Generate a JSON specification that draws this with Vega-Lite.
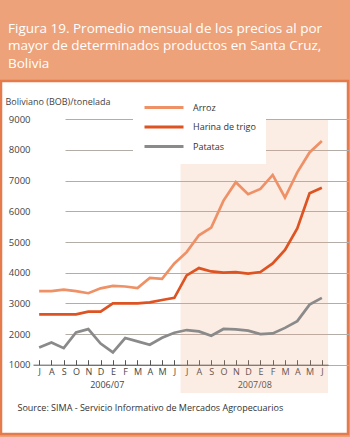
{
  "$schema": "https://vega.github.io/schema/vega-lite/v6.json",
  "width": 347,
  "height": 353,
  "autosize": "none",
  "padding": {"left": 1, "top": 81, "right": 2, "bottom": 3},
  "background": "#EDA27A",
  "title": {
    "text": ["Figura 19. Promedio mensual de los precios al por", "mayor de determinados productos en Santa Cruz,", "Bolivia"],
    "anchor": "start",
    "orient": "top",
    "color": "white",
    "font": "Open Sans",
    "fontSize": 13.5,
    "fontWeight": "normal",
    "lineHeight": 17.5,
    "dx": 7,
    "offset": 11
  },
  "config": {
    "view": {"fill": "white", "stroke": "#E57A4B", "strokeWidth": 2.5},
    "axisX": {
      "offset": -69.3,
      "zindex": 1,
      "grid": false,
      "labelOverlap": false,
      "labelFlush": false,
      "labelBound": false,
      "tickSize": -5,
      "tickWidth": 1,
      "domainColor": "#555555",
      "labelFontSize": 9,
      "labelLineHeight": 12.5,
      "labelPadding": 8,
      "labelColor": "#444444",
      "labelFont": "Open Sans",
      "titleAnchor": "start",
      "titleAlign": "left",
      "titleBaseline": "middle",
      "titleX": 16,
      "titleY": 43,
      "titleFontWeight": "normal",
      "titleFontSize": 9,
      "titleColor": "#333333",
      "titleFont": "Open Sans"
    },
    "axisY": {
      "offset": -32,
      "domain": false,
      "ticks": false,
      "labelPadding": 3,
      "labelFontSize": 9.5,
      "labelColor": "#444444",
      "labelFont": "Open Sans",
      "grid": true,
      "gridColor": "#B3ADA8",
      "gridWidth": 1,
      "titleAngle": 0,
      "titleAlign": "left",
      "titleBaseline": "middle",
      "titleX": -28,
      "titleY": 20,
      "titleFontSize": 9,
      "titleFontWeight": "normal",
      "titleColor": "#444444",
      "titleFont": "Open Sans"
    }
  },
  "layer": [
    {
      "data": {"values": [{"start": 11.5, "end": 23.5}]},
      "mark": {"type": "rect", "color": "#EDA27A", "opacity": 0.2},
      "encoding": {
        "x": {
          "field": "start",
          "type": "quantitative",
          "title": "Source: SIMA - Servicio Informativo de Mercados Agropecuarios",
          "axis": {
            "values": [0, 1, 2, 3, 4, 5, 6, 7, 8, 9, 10, 11, 12, 13, 14, 15, 16, 17, 18, 19, 20, 21, 22, 23, 5.5, 17.5],
            "labelExpr": "datum.value == 5.5 ? ['', '2006/07'] : datum.value == 17.5 ? ['', '2007/08'] : ['J','A','S','O','N','D','E','F','M','A','M','J'][datum.value % 12]",
            "labelOverlap": false,
            "tickColor": {"condition": {"test": "datum.value % 1 != 0", "value": "transparent"}, "value": "#555555"}
          }
        },
        "x2": {"field": "end"},
        "y": {
          "datum": 9000,
          "title": "Boliviano (BOB)/tonelada",
          "axis": {"values": [1000, 2000, 3000, 4000, 5000, 6000, 7000, 8000, 9000], "format": "d"}
        },
        "y2": {"datum": 80}
      }
    },
    {
      "data": {
        "values": [
          {"t": 0, "product": "Arroz", "price": 3400}, {"t": 1, "product": "Arroz", "price": 3400}, {"t": 2, "product": "Arroz", "price": 3450}, {"t": 3, "product": "Arroz", "price": 3400},
          {"t": 4, "product": "Arroz", "price": 3330}, {"t": 5, "product": "Arroz", "price": 3490}, {"t": 6, "product": "Arroz", "price": 3570}, {"t": 7, "product": "Arroz", "price": 3550},
          {"t": 8, "product": "Arroz", "price": 3500}, {"t": 9, "product": "Arroz", "price": 3830}, {"t": 10, "product": "Arroz", "price": 3800}, {"t": 11, "product": "Arroz", "price": 4300},
          {"t": 12, "product": "Arroz", "price": 4670}, {"t": 13, "product": "Arroz", "price": 5220}, {"t": 14, "product": "Arroz", "price": 5470}, {"t": 15, "product": "Arroz", "price": 6350},
          {"t": 16, "product": "Arroz", "price": 6950}, {"t": 17, "product": "Arroz", "price": 6560}, {"t": 18, "product": "Arroz", "price": 6730}, {"t": 19, "product": "Arroz", "price": 7185},
          {"t": 20, "product": "Arroz", "price": 6450}, {"t": 21, "product": "Arroz", "price": 7270}, {"t": 22, "product": "Arroz", "price": 7920}, {"t": 23, "product": "Arroz", "price": 8290},
          {"t": 0, "product": "Harina de trigo", "price": 2640}, {"t": 1, "product": "Harina de trigo", "price": 2640}, {"t": 2, "product": "Harina de trigo", "price": 2640}, {"t": 3, "product": "Harina de trigo", "price": 2640},
          {"t": 4, "product": "Harina de trigo", "price": 2730}, {"t": 5, "product": "Harina de trigo", "price": 2730}, {"t": 6, "product": "Harina de trigo", "price": 3000}, {"t": 7, "product": "Harina de trigo", "price": 3000},
          {"t": 8, "product": "Harina de trigo", "price": 3000}, {"t": 9, "product": "Harina de trigo", "price": 3030}, {"t": 10, "product": "Harina de trigo", "price": 3110}, {"t": 11, "product": "Harina de trigo", "price": 3180},
          {"t": 12, "product": "Harina de trigo", "price": 3910}, {"t": 13, "product": "Harina de trigo", "price": 4150}, {"t": 14, "product": "Harina de trigo", "price": 4040}, {"t": 15, "product": "Harina de trigo", "price": 4000},
          {"t": 16, "product": "Harina de trigo", "price": 4020}, {"t": 17, "product": "Harina de trigo", "price": 3970}, {"t": 18, "product": "Harina de trigo", "price": 4020}, {"t": 19, "product": "Harina de trigo", "price": 4300},
          {"t": 20, "product": "Harina de trigo", "price": 4740}, {"t": 21, "product": "Harina de trigo", "price": 5440}, {"t": 22, "product": "Harina de trigo", "price": 6590}, {"t": 23, "product": "Harina de trigo", "price": 6770},
          {"t": 0, "product": "Patatas", "price": 1560}, {"t": 1, "product": "Patatas", "price": 1725}, {"t": 2, "product": "Patatas", "price": 1540}, {"t": 3, "product": "Patatas", "price": 2050},
          {"t": 4, "product": "Patatas", "price": 2160}, {"t": 5, "product": "Patatas", "price": 1690}, {"t": 6, "product": "Patatas", "price": 1400}, {"t": 7, "product": "Patatas", "price": 1870},
          {"t": 8, "product": "Patatas", "price": 1760}, {"t": 9, "product": "Patatas", "price": 1650}, {"t": 10, "product": "Patatas", "price": 1880}, {"t": 11, "product": "Patatas", "price": 2040},
          {"t": 12, "product": "Patatas", "price": 2130}, {"t": 13, "product": "Patatas", "price": 2085}, {"t": 14, "product": "Patatas", "price": 1945}, {"t": 15, "product": "Patatas", "price": 2165},
          {"t": 16, "product": "Patatas", "price": 2150}, {"t": 17, "product": "Patatas", "price": 2110}, {"t": 18, "product": "Patatas", "price": 2000}, {"t": 19, "product": "Patatas", "price": 2020},
          {"t": 20, "product": "Patatas", "price": 2200}, {"t": 21, "product": "Patatas", "price": 2420}, {"t": 22, "product": "Patatas", "price": 2960}, {"t": 23, "product": "Patatas", "price": 3180}
        ]
      },
      "mark": {"type": "line", "strokeWidth": 2.7},
      "encoding": {
        "x": {
          "field": "t",
          "type": "quantitative",
          "title": "Source: SIMA - Servicio Informativo de Mercados Agropecuarios",
          "scale": {"domain": [-0.5, 23.5], "range": [32, 327], "nice": false, "zero": false},
          "axis": {
            "values": [0, 1, 2, 3, 4, 5, 6, 7, 8, 9, 10, 11, 12, 13, 14, 15, 16, 17, 18, 19, 20, 21, 22, 23, 5.5, 17.5],
            "labelExpr": "datum.value == 5.5 ? ['', '2006/07'] : datum.value == 17.5 ? ['', '2007/08'] : ['J','A','S','O','N','D','E','F','M','A','M','J'][datum.value % 12]",
            "labelOverlap": false,
            "tickColor": {"condition": {"test": "datum.value % 1 != 0", "value": "transparent"}, "value": "#555555"}
          }
        },
        "y": {
          "field": "price",
          "type": "quantitative",
          "title": "Boliviano (BOB)/tonelada",
          "scale": {"domain": [1000, 9000], "range": [283.7, 38.3], "nice": false, "zero": false},
          "axis": {"values": [1000, 2000, 3000, 4000, 5000, 6000, 7000, 8000, 9000], "format": "d"}
        },
        "color": {
          "field": "product",
          "type": "nominal",
          "scale": {"domain": ["Arroz", "Harina de trigo", "Patatas"], "range": ["#EF9166", "#DE5322", "#8A8A8A"]},
          "legend": {
            "orient": "none",
            "legendX": 132,
            "legendY": 9,
            "title": null,
            "symbolType": "stroke",
            "symbolSize": 1521,
            "symbolStrokeWidth": 3,
            "clipHeight": 15,
            "rowPadding": 4.5,
            "labelOffset": 8,
            "labelFontSize": 9,
            "labelColor": "#333333",
            "labelFont": "Open Sans",
            "fillColor": "white",
            "padding": 10
          }
        }
      }
    }
  ]
}
